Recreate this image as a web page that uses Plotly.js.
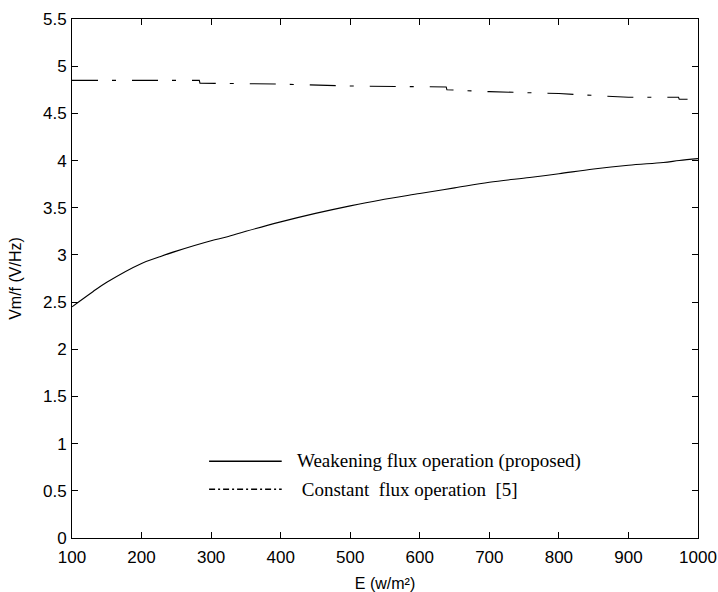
<!DOCTYPE html>
<html>
<head>
<meta charset="utf-8">
<script src="https://cdn.plot.ly/plotly-3.0.1.min.js"></script>
<style>
  html, body { margin: 0; padding: 0; background: #fff; }
  #chart { width: 718px; height: 592px; }
</style>
</head>
<body>
<div id="chart"></div>
<script>
// Irradiance E (w/m²) and V/f ratio for the weakening-flux strategy
const weakE = [100, 130, 150, 200, 226, 250, 300, 322, 350, 400, 450, 500, 542, 600, 650, 700, 758, 800, 850, 900, 950, 973, 1000];
const weakVf = [2.45, 2.61, 2.71, 2.91, 2.98, 3.04, 3.15, 3.19, 3.25, 3.35, 3.44, 3.52, 3.58, 3.65, 3.71, 3.77, 3.82, 3.86, 3.91, 3.95, 3.98, 4.00, 4.02];

// Constant-flux strategy: nearly flat, stepping down slowly
const constE = [100, 283, 284, 400, 500, 638, 639, 700, 800, 900, 972, 973, 985];
const constVf = [4.85, 4.85, 4.82, 4.81, 4.79, 4.78, 4.75, 4.73, 4.71, 4.67, 4.67, 4.65, 4.65];

const xTicks = [100, 200, 300, 400, 500, 600, 700, 800, 900, 1000];
const yTicks = [0, 0.5, 1, 1.5, 2, 2.5, 3, 3.5, 4, 4.5, 5, 5.5];

const legendLabels = ['Weakening flux operation (proposed)', '\u00a0Constant\u00a0\u00a0flux operation\u00a0\u00a0[5]'];

const traces = [
  {
    x: weakE, y: weakVf, type: 'scatter', mode: 'lines',
    line: { color: '#000', width: 1.1, shape: 'spline', smoothing: 1 },
    showlegend: false, hoverinfo: 'skip'
  },
  {
    x: constE, y: constVf, type: 'scatter', mode: 'lines',
    line: { color: '#000', width: 1.1, dash: '26px,14px,4px,16px' },
    showlegend: false, hoverinfo: 'skip'
  }
];

const sans = 'Liberation Sans, Arial, sans-serif';
const axisFont = { family: sans, size: 17, color: '#000' };
const titleFont = { family: sans, size: 16, color: '#000' };
const legendFont = { family: 'Liberation Serif, Times New Roman, serif', size: 19, color: '#000' };

// Hand-placed legend: line samples as shapes, labels as annotations
const legRows = [0.148, 0.094];
const shapes = [
  { type: 'line', xref: 'paper', yref: 'paper', x0: 0.219, x1: 0.335, y0: legRows[0], y1: legRows[0],
    line: { color: '#000', width: 1.5 } },
  { type: 'line', xref: 'paper', yref: 'paper', x0: 0.219, x1: 0.335, y0: legRows[1], y1: legRows[1],
    line: { color: '#000', width: 1.5, dash: '6px,3px,2px,3px' } }
];
const annotations = legendLabels.map((t, i) => ({
  text: t, xref: 'paper', yref: 'paper', x: 0.357, y: legRows[i],
  xanchor: 'left', yanchor: 'middle', showarrow: false, font: legendFont
}));

const layout = {
  width: 718, height: 592,
  margin: { l: 72, r: 20, t: 19, b: 54 },
  paper_bgcolor: '#fff', plot_bgcolor: '#fff',
  showlegend: false,
  xaxis: {
    range: [100, 1000], tickvals: xTicks, ticktext: xTicks.map(String),
    ticks: 'inside', ticklen: 6, tickcolor: '#000', tickwidth: 1,
    showline: true, linecolor: '#000', linewidth: 1, mirror: 'ticks',
    showgrid: false, zeroline: false, tickfont: axisFont, ticklabelstandoff: 4,
    title: { text: 'E (w/m²)', font: titleFont, standoff: 12 }
  },
  yaxis: {
    range: [0, 5.5], tickvals: yTicks, ticktext: yTicks.map(String),
    ticks: 'inside', ticklen: 6, tickcolor: '#000', tickwidth: 1,
    showline: true, linecolor: '#000', linewidth: 1, mirror: 'ticks',
    showgrid: false, zeroline: false, tickfont: axisFont, ticklabelstandoff: 1,
    title: { text: 'Vm/f (V/Hz)', font: titleFont, standoff: 17 }
  },
  shapes: shapes,
  annotations: annotations
};

Plotly.newPlot('chart', traces, layout, { staticPlot: true, displayModeBar: false });
</script>
</body>
</html>
